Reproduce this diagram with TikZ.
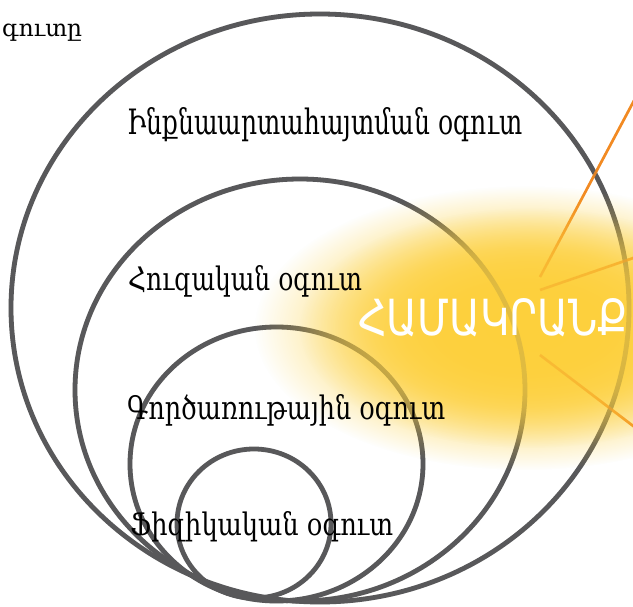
\documentclass[tikz,border=0pt]{standalone}
\usepackage{fontspec}
\usepackage{graphicx}
\usetikzlibrary{fadings}
\newfontfamily\armserif{DejaVu Serif}
\newfontfamily\armsans{DejaVu Sans}
\definecolor{ringgray}{HTML}{58585A}
\definecolor{rayorange}{HTML}{F28A22}
\definecolor{glowyellow}{HTML}{FDD03C}
\pgfdeclareradialshading{glowshade}{\pgfpointorigin}{color(0bp)=(transparent!4); color(8bp)=(transparent!10); color(14bp)=(transparent!30); color(19bp)=(transparent!62); color(25bp)=(transparent!100); color(50bp)=(transparent!100)}
\pgfdeclarefading{glowfade}{\pgfuseshading{glowshade}}
\begin{document}
\begin{tikzpicture}[x=1pt,y=-1pt,
  ring/.style={draw=ringgray,line width=4.8pt},
  ray/.style={draw=rayorange,line width=2.6pt},
  glow/.style={fill=glowyellow, path fading=glowfade},
  lbl/.style={anchor=base west,inner sep=0pt,text=black}]
\useasboundingbox (0,0) rectangle (633,607);
\clip (0,0) rectangle (633,607);
\fill[white] (0,0) rectangle (633,607);
% rings
\draw[ring] (320,308) ellipse [x radius=309pt, y radius=294pt];
\draw[ring] (300,390) ellipse [x radius=225pt, y radius=211pt];
\draw[ring] (276.5,464) ellipse [x radius=146.5pt, y radius=137pt];
\draw[ring] (254,523.5) ellipse [x radius=77pt, y radius=74.5pt];
% rays
\coordinate (r1s) at (540,277); \coordinate (r1e) at (645,80);
\coordinate (r2s) at (540,290); \coordinate (r2e) at (645,254);
\coordinate (r3s) at (540,355); \coordinate (r3e) at (645,435);
\draw[ray] (r1s) -- (r1e);
\draw[ray] (r2s) -- (r2e);
\draw[ray] (r3s) -- (r3e);
% glow
\path[glow] (525,328) ellipse [x radius=270pt, y radius=142pt];
\path[glow] (530,328) ellipse [x radius=230pt, y radius=120pt];
% faint traces of rings and rays through the glow
\begin{scope}[opacity=0.16]
\draw[ring] (320,308) ellipse [x radius=309pt, y radius=294pt];
\draw[ring] (300,390) ellipse [x radius=225pt, y radius=211pt];
\draw[ring] (276.5,464) ellipse [x radius=146.5pt, y radius=137pt];
\end{scope}
\begin{scope}[opacity=0.3]
\draw[ray] (r1s) -- (r1e);
\draw[ray] (r2s) -- (r2e);
\draw[ray] (r3s) -- (r3e);
\end{scope}
% core word
\node[lbl,text=white] (core) at (358,335) {\resizebox{270pt}{37pt}{\armsans ՀԱՄԱԿՐԱՆՔ}};
% labels
\node[lbl] (l0) at (2,37) {\resizebox{80pt}{12.5pt}{\armserif գուտը}};
\node[lbl] (l1) at (127,135) {\resizebox{395pt}{27pt}{\armserif Ինքնաարտահայտման օգուտ}};
\node[lbl] (l2) at (128,291) {\resizebox{234pt}{25pt}{\armserif Հուզական օգուտ}};
\node[lbl] (l3) at (127,420) {\resizebox{318pt}{25pt}{\armserif Գործառութային օգուտ}};
\node[lbl] (l4) at (130,535) {\resizebox{263pt}{24pt}{\armserif Ֆիզիկական օգուտ}};
\end{tikzpicture}
\end{document}
